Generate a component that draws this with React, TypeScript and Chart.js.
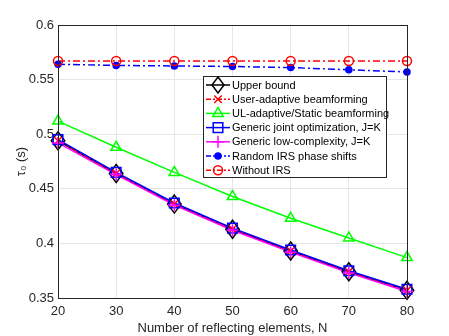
import React, { useEffect, useRef } from "react";
import { Chart, registerables } from "chart.js";

Chart.register(...registerables);

const N = [20, 30, 40, 50, 60, 70, 80];
const upperBound = [0.494, 0.464, 0.436, 0.413, 0.393, 0.374, 0.357];
const userAdaptive = [0.494, 0.464, 0.436, 0.413, 0.393, 0.374, 0.357];
const ulAdaptive = [0.512, 0.488, 0.465, 0.443, 0.423, 0.405, 0.387];
const genericJoint = [0.495, 0.465, 0.437, 0.414, 0.394, 0.375, 0.358];
const lowComplexity = [0.492, 0.463, 0.435, 0.412, 0.392, 0.373, 0.356];
const randomIRS = [0.564, 0.563, 0.5625, 0.562, 0.561, 0.559, 0.557];
const withoutIRS = [0.567, 0.567, 0.567, 0.567, 0.567, 0.567, 0.567];
const yTicks = [0.35, 0.4, 0.45, 0.5, 0.55, 0.6];
const xTicks = [20, 30, 40, 50, 60, 70, 80];

const labels = [
  "Upper bound",
  "User-adaptive beamforming",
  "UL-adaptive/Static beamforming",
  "Generic joint optimization, J=K",
  "Generic low-complexity, J=K",
  "Random IRS phase shifts",
  "Without IRS",
];

type Spec = {
  data: number[];
  color: string;
  style: string;
  radius: number;
  dash: number[];
  fill: boolean;
};

const DASHDOT = [7, 3, 2, 3];

const specs: Spec[] = [
  { data: upperBound, color: "#000000", style: "rectRot", radius: 9, dash: [], fill: false },
  { data: userAdaptive, color: "#ff0000", style: "crossRot", radius: 5, dash: DASHDOT, fill: false },
  { data: ulAdaptive, color: "#00ff00", style: "triangle", radius: 6, dash: [], fill: false },
  { data: genericJoint, color: "#0000ff", style: "rect", radius: 6, dash: [], fill: false },
  { data: lowComplexity, color: "#ff00ff", style: "cross", radius: 6, dash: [], fill: false },
  { data: randomIRS, color: "#0000ff", style: "circle", radius: 3, dash: DASHDOT, fill: true },
  { data: withoutIRS, color: "#ff0000", style: "circle", radius: 4.5, dash: DASHDOT, fill: false },
];

function drawMarker(ctx: CanvasRenderingContext2D, s: Spec, x: number, y: number) {
  const r = s.radius;
  ctx.save();
  ctx.setLineDash([]);
  ctx.strokeStyle = s.color;
  ctx.fillStyle = s.color;
  ctx.lineWidth = 1.5;
  ctx.beginPath();
  switch (s.style) {
    case "rectRot":
      ctx.moveTo(x, y - r);
      ctx.lineTo(x + r * 0.75, y);
      ctx.lineTo(x, y + r);
      ctx.lineTo(x - r * 0.75, y);
      ctx.closePath();
      break;
    case "crossRot": {
      const d = r * 0.75;
      ctx.moveTo(x - d, y - d);
      ctx.lineTo(x + d, y + d);
      ctx.moveTo(x - d, y + d);
      ctx.lineTo(x + d, y - d);
      break;
    }
    case "triangle":
      ctx.moveTo(x, y - r);
      ctx.lineTo(x + r * 0.87, y + r * 0.5);
      ctx.lineTo(x - r * 0.87, y + r * 0.5);
      ctx.closePath();
      break;
    case "rect": {
      const d = r * 0.8;
      ctx.rect(x - d, y - d, 2 * d, 2 * d);
      break;
    }
    case "cross":
      ctx.moveTo(x - r, y);
      ctx.lineTo(x + r, y);
      ctx.moveTo(x, y - r);
      ctx.lineTo(x, y + r);
      break;
    default:
      ctx.arc(x, y, r, 0, Math.PI * 2);
  }
  if (s.fill) ctx.fill();
  ctx.stroke();
  ctx.restore();
}

const markerPlugin = {
  id: "markers",
  afterDatasetsDraw(chart: any) {
    const ctx = chart.ctx as CanvasRenderingContext2D;
    specs.forEach((s, i) => {
      const meta = chart.getDatasetMeta(i);
      meta.data.forEach((pt: any) => drawMarker(ctx, s, pt.x, pt.y));
    });
  },
};

const boxLegendPlugin = {
  id: "boxLegend",
  afterDraw(chart: any) {
    const ctx = chart.ctx as CanvasRenderingContext2D;
    const a = chart.chartArea;
    ctx.save();
    ctx.strokeStyle = "#262626";
    ctx.lineWidth = 1;
    ctx.setLineDash([]);
    ctx.strokeRect(Math.round(a.left) + 0.5, Math.round(a.top) + 0.5, Math.round(a.right - a.left), Math.round(a.bottom - a.top));

    const lx = a.left + 145;
    const ly = a.top + 51;
    const lw = 183;
    const lh = 101;
    ctx.fillStyle = "#ffffff";
    ctx.fillRect(lx, ly, lw, lh);
    ctx.strokeStyle = "#262626";
    ctx.lineWidth = 1;
    ctx.strokeRect(lx + 0.5, ly + 0.5, lw, lh);
    ctx.font = "11px 'Liberation Sans', Arial, sans-serif";
    ctx.textBaseline = "middle";
    ctx.textAlign = "left";
    labels.forEach((lab, i) => {
      const s = specs[i];
      const y = ly + 9 + i * 14.2;
      ctx.save();
      ctx.strokeStyle = s.color;
      ctx.lineWidth = 1.5;
      ctx.setLineDash(s.dash.length ? [5, 2, 2, 2] : []);
      ctx.beginPath();
      ctx.moveTo(lx + 3, y);
      ctx.lineTo(lx + 27, y);
      ctx.stroke();
      ctx.restore();
      drawMarker(ctx, { ...s, radius: i === 0 ? 8 : s.radius }, lx + 15, y);
      ctx.fillStyle = "#000000";
      ctx.fillText(lab, lx + 29, y + 0.5);
    });
    ctx.restore();
  },
};

export default function App() {
  const ref = useRef<HTMLCanvasElement | null>(null);
  useEffect(() => {
    if (!ref.current) return;
    const chart = new Chart(ref.current, {
      type: "line",
      data: {
        datasets: specs.map((s, i) => ({
          label: labels[i],
          data: s.data.map((v, j) => ({ x: N[j], y: v })),
          borderColor: s.color,
          backgroundColor: s.color,
          borderWidth: 1.5,
          borderDash: s.dash,
          pointRadius: 0,
          pointHoverRadius: 0,
          tension: 0,
          clip: false as any,
          order: specs.length - i,
        })),
      },
      options: {
        animation: false,
        responsive: false,
        maintainAspectRatio: false,
        layout: { padding: { top: 25, right: 42, left: 0, bottom: 0 } },
        plugins: { legend: { display: false }, tooltip: { enabled: false } },
        scales: {
          x: {
            type: "linear",
            min: 20,
            max: 80,
            afterBuildTicks: (scale: any) => {
              scale.ticks = xTicks.map((v) => ({ value: v }));
            },
            afterFit: (scale: any) => {
              scale.height = 38;
            },
            grid: { color: "#e6e6e6", drawTicks: false, lineWidth: 1 },
            border: { display: false },
            ticks: {
              color: "#262626",
              padding: 6,
              font: { family: "'Liberation Sans', Arial, sans-serif", size: 13 },
              callback: (v: any) => String(v),
            },
            title: {
              display: true,
              text: "Number of reflecting elements, N",
              color: "#262626",
              font: { family: "'Liberation Sans', Arial, sans-serif", size: 13 },
              padding: { top: 0, bottom: 0 },
            },
          },
          y: {
            type: "linear",
            min: 0.35,
            max: 0.6,
            afterBuildTicks: (scale: any) => {
              scale.ticks = yTicks.map((v) => ({ value: v }));
            },
            afterFit: (scale: any) => {
              scale.width = 58;
            },
            grid: { color: "#e6e6e6", drawTicks: false, lineWidth: 1 },
            border: { display: false },
            ticks: {
              color: "#262626",
              padding: 4,
              font: { family: "'Liberation Sans', Arial, sans-serif", size: 13 },
              callback: (v: any) => String(Math.round(Number(v) * 100) / 100),
            },
            title: {
              display: true,
              text: "τ₀ (s)",
              color: "#262626",
              font: { family: "'Liberation Sans', Arial, sans-serif", size: 13 },
              padding: { top: 14, bottom: 0 },
            },
          },
        },
      },
      plugins: [markerPlugin, boxLegendPlugin],
    });
    return () => chart.destroy();
  }, []);
  return (
    <div style={{ position: "absolute", left: 0, top: 0, width: 449, height: 336, background: "#ffffff" }}>
      <canvas ref={ref} width={449} height={336} style={{ width: 449, height: 336, display: "block" }} />
    </div>
  );
}
